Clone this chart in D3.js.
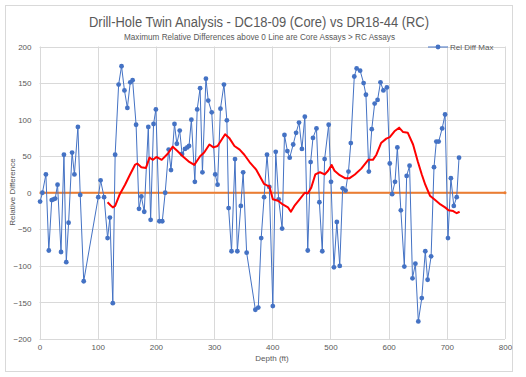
<!DOCTYPE html>
<html>
<head>
<meta charset="utf-8">
<script src="https://cdn.jsdelivr.net/npm/d3@7"></script>
<style>
  html, body { margin: 0; padding: 0; background: #fff; }
  svg { display: block; }
  text { font-family: "Liberation Sans", Arial, sans-serif; fill: #595959; }
</style>
</head>
<body>
<svg id="chart" width="526" height="377"></svg>
<script>
// ---- Data ----
const titleText = "Drill-Hole Twin Analysis - DC18-09 (Core) vs DR18-44 (RC)";
const subtitleText = "Maximum Relative Differences above 0 Line are Core Assays > RC Assays";
const xTicks = [0, 100, 200, 300, 400, 500, 600, 700, 800];
const yTicks = [-200, -150, -100, -50, 0, 50, 100, 150, 200];

const depth = [1,5,11,16,21,24,27,31,37,42,46,50,56,60,66,70,76,101,105,111,117,121,126,130,136,141,146,151,156,160,166,171,175,180,187,191,196,200,206,211,216,222,226,232,236,241,245,250,254,257,261,267,271,276,280,286,290,296,302,306,311,317,322,325,330,336,340,346,350,356,371,376,381,386,391,395,401,406,411,417,421,426,430,436,441,446,451,456,461,466,470,476,481,486,490,497,501,506,511,516,521,526,531,535,541,545,551,557,561,566,571,576,581,586,591,597,602,606,611,615,621,627,631,636,641,646,651,657,663,667,673,678,682,686,692,697,702,707,712,717,721];
const relDiffMax = [-12,0,25,-79,-10,-9,-8,11,-81,52,-95,-41,55,25,90,-3,-121,-6,17,-6,-62,-34,-151,52,148,173,140,116,151,154,93,-22,-5,-26,90,-37,94,114,-39,-39,0,59,31,94,67,85,53,60,62,64,100,15,114,143,28,156,126,110,25,11,115,148,99,-21,-80,46,-80,-18,28,-82,-160,-157,-62,-6,52,8,-155,56,-9,-49,79,57,48,66,82,96,60,104,-79,42,75,88,-13,-80,46,93,15,-102,-40,-100,6,3,29,68,159,170,167,150,134,29,87,122,127,151,140,144,40,-2,15,62,-24,-101,23,37,-117,-97,-176,-144,-80,-119,-87,35,70,70,88,107,-62,20,-18,-6,48];

const maDepth = [117,122,126,130,138,147,155,164,168,175,183,189,195,201,210,220,229,237,246,256,266,276,283,292,299,306,311,319,326,335,344,352,361,372,386,391,395,401,410,418,427,432,438,447,456,461,467,474,482,490,496,502,507,516,525,533,542,553,565,573,579,587,596,602,610,618,625,633,642,650,657,663,671,680,689,697,703,711,717,722];
const maValue = [-13,-17,-20,-18,-2,11,24,38,40,35,34,48,45,49,45,53,63,57,50,43,38,50,55,66,62,64,70,80,75,64,59,52,42,32,12,10,9,-9,-11,-16,-20,-26,-18,-9,0,-1,7,25,28,25,30,38,30,24,20,20,25,33,45,45,52,68,74,76,84,89,83,82,66,43,25,11,-4,-10,-16,-20,-24,-25,-28,-26];

const zeroDepth = [0, 800];
const zeroValue = [0, 0];

// ---- Layout ----
const svg = d3.select("#chart");
const W = 526, H = 377;
const plot = { left: 39.5, right: 505, top: 46.5, bottom: 339 };

const x = d3.scaleLinear().domain([0, 800]).range([plot.left, plot.right]);
const y = d3.scaleLinear().domain([-200, 200]).range([plot.bottom, plot.top]);

// outer chart border
svg.append("rect").attr("x", 5.5).attr("y", 5.5).attr("width", 507).attr("height", 366)
  .attr("fill", "#fff").attr("stroke", "#d9d9d9").attr("stroke-width", 1);

// gridlines
svg.append("g").selectAll("line").data(yTicks).join("line")
  .attr("x1", plot.left).attr("x2", plot.right)
  .attr("y1", d => Math.round(y(d)) + 0.5).attr("y2", d => Math.round(y(d)) + 0.5)
  .attr("stroke", "#d9d9d9").attr("stroke-width", 1);
svg.append("g").selectAll("line").data(xTicks).join("line")
  .attr("y1", plot.top).attr("y2", plot.bottom)
  .attr("x1", d => Math.round(x(d)) + 0.5).attr("x2", d => Math.round(x(d)) + 0.5)
  .attr("stroke", "#d9d9d9").attr("stroke-width", 1);

// axes labels (tick labels)
const xAxis = d3.axisBottom(x).tickValues(xTicks).tickSize(0).tickPadding(5);
const gx = svg.append("g").attr("transform", `translate(0,${plot.bottom})`).call(xAxis);
gx.select(".domain").remove();
gx.selectAll("text").style("font-size", "8px").attr("fill", "#595959");

const yAxis = d3.axisLeft(y).tickValues(yTicks).tickSize(0).tickPadding(8);
const gy = svg.append("g").attr("transform", `translate(${plot.left},0)`).call(yAxis);
gy.select(".domain").remove();
gy.selectAll("text").style("font-size", "8px").attr("fill", "#595959");

// zero line (orange)
const pts = (xs, ys) => xs.map((d, i) => [d, ys[i]]);
const lineGen = d3.line().x(d => x(d[0])).y(d => y(d[1]));
svg.append("path").datum(pts(zeroDepth, zeroValue)).attr("d", lineGen)
  .attr("fill", "none").attr("stroke", "#ED7D31").attr("stroke-width", 2);
svg.append("circle").attr("cx", x(800)).attr("cy", y(0)).attr("r", 1.5).attr("fill", "#ED7D31");

// blue series
const blue = pts(depth, relDiffMax);
svg.append("path").datum(blue).attr("d", lineGen)
  .attr("fill", "none").attr("stroke", "#4472C4").attr("stroke-width", 1);
svg.append("g").selectAll("circle").data(blue).join("circle")
  .attr("cx", d => x(d[0])).attr("cy", d => y(d[1])).attr("r", 2.4)
  .attr("fill", "#4472C4");

// red moving average
svg.append("path").datum(pts(maDepth, maValue)).attr("d", lineGen)
  .attr("fill", "none").attr("stroke", "#FF0000").attr("stroke-width", 2)
  .attr("stroke-linejoin", "round");

// titles
svg.append("text").attr("x", 259).attr("y", 27).attr("text-anchor", "middle")
  .attr("textLength", 340).attr("lengthAdjust", "spacingAndGlyphs")
  .style("font-size", "14px").text(titleText);
svg.append("text").attr("x", 259.5).attr("y", 40).attr("text-anchor", "middle")
  .attr("textLength", 271).attr("lengthAdjust", "spacingAndGlyphs")
  .style("font-size", "8.5px").attr("fill", "#404040").text(subtitleText);

// axis titles
svg.append("text").attr("transform", `translate(15,192) rotate(-90)`)
  .attr("text-anchor", "middle").style("font-size", "8px").text("Relative Difference");
svg.append("text").attr("x", 272).attr("y", 361).attr("text-anchor", "middle")
  .style("font-size", "8px").text("Depth (ft)");

// legend
const lg = svg.append("g");
lg.append("line").attr("x1", 428).attr("x2", 448).attr("y1", 47).attr("y2", 47)
  .attr("stroke", "#4472C4").attr("stroke-width", 1);
lg.append("circle").attr("cx", 438).attr("cy", 47).attr("r", 2.4).attr("fill", "#4472C4");
lg.append("text").attr("x", 450).attr("y", 50).style("font-size", "8px").text("Rel Diff Max");
</script>
</body>
</html>
